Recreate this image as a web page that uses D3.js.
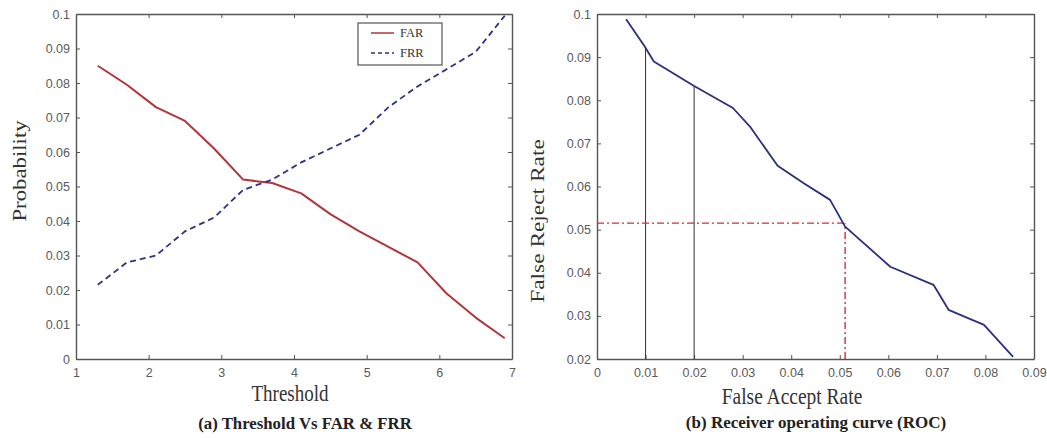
<!DOCTYPE html>
<html>
<head>
<meta charset="utf-8">
<script src="https://cdn.jsdelivr.net/npm/d3@7"></script>
<style>
  html, body { margin: 0; padding: 0; background: #fff; }
  svg { display: block; }
  .tick text { font-family: "Liberation Sans", Arial, sans-serif; font-size: 12.5px; fill: #5a5a5a; }
  .serif { font-family: "Liberation Serif", "Times New Roman", serif; fill: #333; }
</style>
</head>
<body>
<svg id="chart" width="1047" height="438"></svg>
<script>
// ---------- Data: (a) Threshold vs FAR & FRR ----------
const thresholds = [1.3, 1.7, 2.1, 2.5, 2.9, 3.3, 3.7, 4.1, 4.5, 4.9, 5.3, 5.7, 6.1, 6.5, 6.9];
const farValues  = [0.085, 0.0795, 0.073, 0.069, 0.061, 0.052, 0.051, 0.048, 0.042, 0.037, 0.0325, 0.028, 0.019, 0.012, 0.006];
const frrValues  = [0.0215, 0.028, 0.030, 0.037, 0.041, 0.049, 0.052, 0.057, 0.061, 0.065, 0.073, 0.079, 0.084, 0.089, 0.0995];
const leftXTicks = [1, 2, 3, 4, 5, 6, 7];
const leftYTicks = [0, 0.01, 0.02, 0.03, 0.04, 0.05, 0.06, 0.07, 0.08, 0.09, 0.1];
const leftYLabels = ["0", "0.01", "0.02", "0.03", "0.04", "0.05", "0.06", "0.07", "0.08", "0.09", "0.1"];
const seriesNames = ["FAR", "FRR"];

// ---------- Data: (b) ROC ----------
const rocFar = [0.006, 0.0098, 0.0117, 0.020, 0.028, 0.0315, 0.0372, 0.0425, 0.048, 0.0511, 0.0584, 0.0604, 0.0693, 0.0724, 0.0797, 0.0857];
const rocFrr = [0.0988, 0.0925, 0.089, 0.0833, 0.0782, 0.0739, 0.0648, 0.0608, 0.0569, 0.0507, 0.0434, 0.0414, 0.0372, 0.0314, 0.0279, 0.0205];
const rightXTicks = [0, 0.01, 0.02, 0.03, 0.04, 0.05, 0.06, 0.07, 0.08, 0.09];
const rightXLabels = ["0", "0.01", "0.02", "0.03", "0.04", "0.05", "0.06", "0.07", "0.08", "0.09"];
const rightYTicks = [0.02, 0.03, 0.04, 0.05, 0.06, 0.07, 0.08, 0.09, 0.1];
const rightYLabels = ["0.02", "0.03", "0.04", "0.05", "0.06", "0.07", "0.08", "0.09", "0.1"];
const markerFar = [0.01, 0.02];          // vertical reference lines
const eerPoint = [0.0511, 0.0515];        // equal error rate marker (FAR, FRR)

const svg = d3.select("#chart");
const axisColor = "#555";

function drawFrame(g, x, y, xt, xl, yt, yl) {
  const [x0, x1] = x.range();
  const [y0, y1] = y.range();
  const bottom = d3.axisBottom(x).tickValues(xt).tickFormat((d, i) => xl[i]).tickSize(-4).tickSizeOuter(0).tickPadding(9);
  const top = d3.axisTop(x).tickValues(xt).tickFormat("").tickSize(-4).tickSizeOuter(0);
  const left = d3.axisLeft(y).tickValues(yt).tickFormat((d, i) => yl[i]).tickSize(-4).tickSizeOuter(0).tickPadding(6);
  const right = d3.axisRight(y).tickValues(yt).tickFormat("").tickSize(-4).tickSizeOuter(0);
  const gb = g.append("g").attr("transform", `translate(0,${y0})`).call(bottom);
  const gt = g.append("g").attr("transform", `translate(0,${y1})`).call(top);
  const gl = g.append("g").attr("transform", `translate(${x0},0)`).call(left);
  const gr = g.append("g").attr("transform", `translate(${x1},0)`).call(right);
  [gb, gt, gl, gr].forEach(a => {
    a.select(".domain").attr("stroke", axisColor).attr("stroke-width", 1.4);
    a.selectAll(".tick line").attr("stroke", axisColor).attr("stroke-width", 1);
  });
  gb.selectAll(".tick text").attr("dy", "0.71em");
}

// ---------- Panel (a) ----------
const xA = d3.scaleLinear().domain([1, 7]).range([76, 512]);
const yA = d3.scaleLinear().domain([0, 0.1]).range([359, 14]);
const gA = svg.append("g");
drawFrame(gA, xA, yA, leftXTicks, leftXTicks.map(String), leftYTicks, leftYLabels);

const lineA = d3.line().x(d => xA(d[0])).y(d => yA(d[1]));
gA.append("path")
  .datum(thresholds.map((t, i) => [t, farValues[i]]))
  .attr("d", lineA).attr("fill", "none")
  .attr("stroke", "#b3343a").attr("stroke-width", 2).attr("stroke-linejoin", "round");
gA.append("path")
  .datum(thresholds.map((t, i) => [t, frrValues[i]]))
  .attr("d", lineA).attr("fill", "none")
  .attr("stroke", "#2e3283").attr("stroke-width", 1.8).attr("stroke-dasharray", "6,4");

// legend
const lg = gA.append("g");
lg.append("rect").attr("x", 358).attr("y", 23).attr("width", 84).attr("height", 42)
  .attr("fill", "#fff").attr("stroke", "#555").attr("stroke-width", 1.2);
const legendStyles = [{ c: "#b3343a", dash: null }, { c: "#2e3283", dash: "4,3" }];
seriesNames.forEach((name, i) => {
  const ly = 33 + i * 20;
  lg.append("line").attr("x1", 371).attr("x2", 394).attr("y1", ly).attr("y2", ly)
    .attr("stroke", legendStyles[i].c).attr("stroke-width", 1.5)
    .attr("stroke-dasharray", legendStyles[i].dash);
  lg.append("text").attr("class", "serif").attr("x", 400).attr("y", ly)
    .attr("dominant-baseline", "central").style("font-size", "12.5px").text(name);
});

// labels (a)
svg.append("text").attr("class", "serif")
  .attr("transform", "translate(20,171) rotate(-90) scale(1.2,1)")
  .attr("text-anchor", "middle").attr("dominant-baseline", "central")
  .style("font-size", "19px").text("Probability");
svg.append("text").attr("class", "serif")
  .attr("transform", "translate(290,393) scale(1,1.2)")
  .attr("text-anchor", "middle").attr("dominant-baseline", "central")
  .style("font-size", "19px").text("Threshold");
svg.append("text").attr("class", "serif")
  .attr("transform", "translate(305,423)")
  .attr("text-anchor", "middle").attr("dominant-baseline", "central")
  .style("font-size", "16.8px").style("font-weight", "bold").style("fill", "#222")
  .text("(a) Threshold Vs FAR & FRR");

// ---------- Panel (b) ----------
const xB = d3.scaleLinear().domain([0, 0.09]).range([597, 1034]);
const yB = d3.scaleLinear().domain([0.02, 0.1]).range([359, 14]);
const gB = svg.append("g");
drawFrame(gB, xB, yB, rightXTicks, rightXLabels, rightYTicks, rightYLabels);

// vertical reference lines at FAR = 0.01, 0.02 up to the curve
const rocInterp = v => {
  for (let i = 0; i < rocFar.length - 1; i++) {
    if (v >= rocFar[i] && v <= rocFar[i + 1]) {
      const t = (v - rocFar[i]) / (rocFar[i + 1] - rocFar[i]);
      return rocFrr[i] + t * (rocFrr[i + 1] - rocFrr[i]);
    }
  }
  return rocFrr[0];
};
markerFar.forEach(v => {
  gB.append("line").attr("x1", xB(v)).attr("x2", xB(v))
    .attr("y1", yB(0.02)).attr("y2", yB(rocInterp(v)))
    .attr("stroke", "#333").attr("stroke-width", 1);
});

// EER dash-dot lines
gB.append("line").attr("x1", xB(0)).attr("x2", xB(eerPoint[0]))
  .attr("y1", yB(eerPoint[1])).attr("y2", yB(eerPoint[1]))
  .attr("stroke", "#d0303a").attr("stroke-width", 1.4).attr("stroke-dasharray", "7,3,2,3");
gB.append("line").attr("x1", xB(eerPoint[0])).attr("x2", xB(eerPoint[0]))
  .attr("y1", yB(0.02)).attr("y2", yB(eerPoint[1]))
  .attr("stroke", "#d0303a").attr("stroke-width", 1.4).attr("stroke-dasharray", "7,3,2,3");

const lineB = d3.line().x(d => xB(d[0])).y(d => yB(d[1]));
gB.append("path")
  .datum(rocFar.map((f, i) => [f, rocFrr[i]]))
  .attr("d", lineB).attr("fill", "none")
  .attr("stroke", "#2b2f7e").attr("stroke-width", 1.8).attr("stroke-linejoin", "round");

// labels (b)
svg.append("text").attr("class", "serif")
  .attr("transform", "translate(538,221) rotate(-90) scale(1.2,1)")
  .attr("text-anchor", "middle").attr("dominant-baseline", "central")
  .style("font-size", "19.5px").text("False Reject Rate");
svg.append("text").attr("class", "serif")
  .attr("transform", "translate(792,396) scale(1,1.2)")
  .attr("text-anchor", "middle").attr("dominant-baseline", "central")
  .style("font-size", "19.5px").text("False Accept Rate");
svg.append("text").attr("class", "serif")
  .attr("transform", "translate(816,422)")
  .attr("text-anchor", "middle").attr("dominant-baseline", "central")
  .style("font-size", "17px").style("font-weight", "bold").style("fill", "#222")
  .text("(b) Receiver operating curve (ROC)");
</script>
</body>
</html>
